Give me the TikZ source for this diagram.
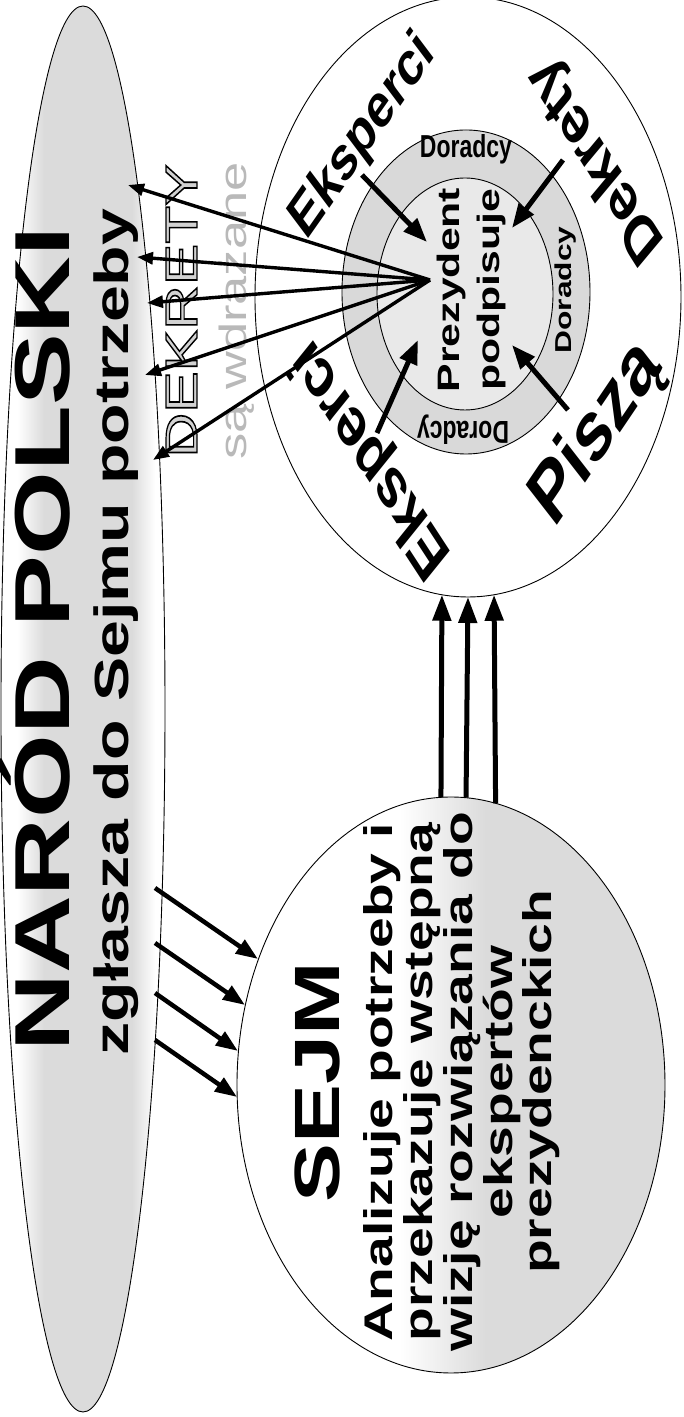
\documentclass[tikz,border=0pt]{standalone}
\usepackage{fontspec}
\setmainfont{Liberation Sans}
\usetikzlibrary{arrows.meta,shapes.geometric}
\def\stretch{1.38}
\newcommand{\fsize}[1]{\fontsize{#1}{#1}\selectfont}
\newcommand{\outlined}[1]{\special{pdf:literal direct 2 Tr 1.2 w 0 G}#1\special{pdf:literal direct 0 Tr}}
\pgfdeclarehorizontalshading{narodfill}{100bp}{color(0bp)=(white); color(30bp)=(white); color(38bp)=(gray!28); color(65bp)=(gray!28); color(72bp)=(white); color(100bp)=(white)}
\pgfdeclarehorizontalshading{sejmfill}{100bp}{color(0bp)=(white); color(44bp)=(white); color(54bp)=(gray!28); color(100bp)=(gray!28)}

\begin{document}
\begin{tikzpicture}[x=1pt,y=1pt,rotate=90,every node/.style={transform shape},
    myarrow/.style={-{Triangle[length=16pt,width=12pt]},line width=3.4pt}]
    \tikzstyle{oval}=[ellipse,draw=black,line width=0.9pt,inner sep=0pt,outer sep=0pt]
    \tikzstyle{bigarrow}=[-{Triangle[length=26pt,width=18pt]},line width=5pt]
    \tikzstyle{inarrow}=[-{Triangle[length=24pt,width=18pt]},line width=5pt]
    \tikzstyle{slide}=[inner sep=0pt,xscale=\stretch]
    \tikzstyle{body}=[slide,anchor=base,font=\bfseries\fsize{40}]
    \tikzstyle{small}=[slide,font=\bfseries\fsize{23}]

    \useasboundingbox (0,0) rectangle (1417,684);

    % Draw the ovals
    \node[oval,shading=narodfill,minimum width=1406,minimum height=164] (narod) at (708,601) {};
    \node[oval,shading=sejmfill,minimum width=576,minimum height=428] (sejm) at (332,233) {};
    \node[oval,fill=white,minimum width=600,minimum height=426] (prez) at (1120,216) {};
    \node[oval,fill=gray!30,minimum width=324,minimum height=248] (dor) at (1125,218) {};
    \node[oval,fill=gray!17,minimum width=232,minimum height=176] (inner) at (1123,219) {};

    % Texts
    \node[slide,anchor=base,font=\bfseries\fsize{78}] (title) at (778,614) {NARÓD POLSKI};
    \node[slide,anchor=base,font=\bfseries\fsize{48}] (need) at (785,555) {zgłasza do Sejmu potrzeby};
    \node[slide,anchor=base,font=\fsize{45},text=gray!35] (dekr) at (1106,487) {\outlined{DEKRETY}};
    \node[slide,anchor=base,font=\fsize{38},text=gray!55] (wdr) at (1106,437) {są wdrażane};

    \node[slide,anchor=base,font=\bfseries\fsize{64}] (sejm-t) at (335,344) {SEJM};
    \foreach \txt/\v [count=\i] in {Analizuje potrzeby i/291,przekazuje wstępną/251,wizję rozwiązania do/211,ekspertów/171,prezydenckich/132}
        \node[body] (line-\i) at (335,\v) {\txt};

    \node[slide,anchor=base,font=\bfseries\fsize{31}] (prez-1) at (1127,224) {Prezydent};
    \node[slide,anchor=base,font=\bfseries\fsize{31}] (prez-2) at (1127,184) {podpisuje};
    \node[small,rotate=-90] (dor-1) at (1268,218) {Doradcy};
    \node[small] (dor-2) at (1127,118) {Doradcy};
    \node[small,rotate=90] (dor-3) at (987,221) {Doradcy};

    \node[slide,font=\bfseries\fsize{45},rotate=-44] (eks-1) at (1280,321) {Eksperci};
    \node[slide,font=\bfseries\fsize{49},rotate=41] (dek) at (1258,87) {Dekrety};
    \node[slide,font=\bfseries\fsize{62},rotate=-43] (pisza) at (983,87) {Piszą};
    \node[slide,font=\bfseries\fsize{51},rotate=42] (eks-2) at (959,312) {Eksperci};

    % Connect every node
    \coordinate (hub) at (1137,254);
    \foreach \u/\v [count=\i] in {1232/556,1160/547,1114/537,1042/539,957/531}
        \coordinate (fan-\i) at (\u,\v);
    \foreach \i in {1,...,5}
        \draw[myarrow] (hub) -- (fan-\i);

    \foreach \u/\v [count=\i] in {529/529,474/529,424/529,377/529}
        \coordinate (ns-\i) at (\u,\v);
    \foreach \u/\v [count=\i] in {458/426,412/439,366/446,320/447}
        \coordinate (sn-\i) at (\u,\v);
    \foreach \i in {1,...,4}
        \draw[-{Triangle[length=22pt,width=16pt]},line width=4.5pt] (ns-\i) -- (sn-\i);

    \foreach \a/\b in {2/175,-3/180,-9/185}
        \draw[bigarrow] (sejm.\a) -- (prez.\b);

    \coordinate (eks-1-s) at (1242,322);
    \coordinate (eks-1-e) at (1175,257);
    \coordinate (eks-2-s) at (984,307);
    \coordinate (eks-2-e) at (1077,266);
    \coordinate (dek-s) at (1257,121);
    \coordinate (dek-e) at (1189,172);
    \coordinate (pisza-s) at (1007,116);
    \coordinate (pisza-e) at (1072,172);
    \foreach \w in {eks-1,eks-2,dek,pisza}
        \draw[inarrow] (\w-s) -- (\w-e);
\end{tikzpicture}
\end{document}
